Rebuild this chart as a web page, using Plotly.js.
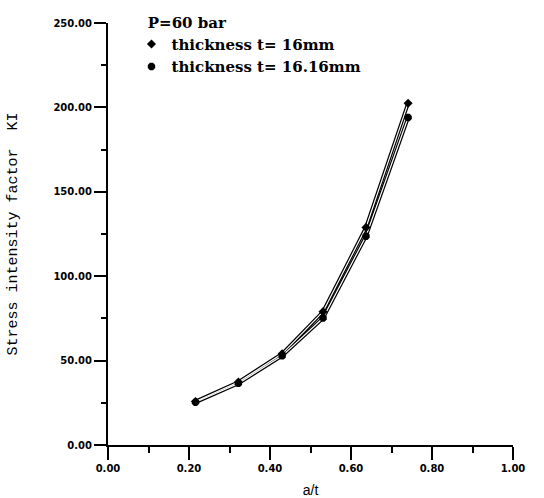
<!DOCTYPE html>
<html>
<head>
<meta charset="utf-8">
<script src="https://cdn.plot.ly/plotly-3.0.1.min.js"></script>
<style>html,body{margin:0;padding:0;background:#fff;}#chart{width:544px;height:498px;}</style>
</head>
<body>
<div id="chart"></div>
<script>
// Data (a/t positions as they appear on the axis)
const aT = [0.216, 0.322, 0.430, 0.531, 0.637, 0.741];
const kI_16 = [25.8, 37.3, 54.0, 79.0, 128.9, 202.5];
const kI_1616 = [25.3, 36.5, 52.8, 75.2, 123.7, 194.0];
const seriesNames = ["thickness t= 16mm", "thickness t= 16.16mm"];
const yTickVals = [0, 50, 100, 150, 200, 250];
const xTickVals = [0, 0.2, 0.4, 0.6, 0.8, 1.0];

const series = [kI_16, kI_1616];
const symbols = ["diamond", "octagon"];
const sizes = [7, 8];
const traces = [];
series.forEach(function (ys) {
  traces.push({x: aT, y: ys, mode: "lines", line: {color: "#000", width: 3.6}, showlegend: false, hoverinfo: "skip"});
});
series.forEach(function (ys) {
  traces.push({x: aT, y: ys, mode: "lines", line: {color: "#fff", width: 1.2}, showlegend: false, hoverinfo: "skip"});
});
series.forEach(function (ys, i) {
  traces.push({x: aT, y: ys, mode: "markers",
    name: "<b>" + seriesNames[i] + "</b>",
    marker: {symbol: symbols[i], size: sizes[i], color: "#000"}});
});

const tickFont = {family: "DejaVu Sans", size: 10, color: "#000", weight: "bold"};
const layout = {
  width: 544, height: 498,
  margin: {l: 108, r: 31, t: 23, b: 53, autoexpand: false},
  paper_bgcolor: "#fff", plot_bgcolor: "#fff",
  showlegend: true,
  legend: {
    x: 0.058, y: 1.035, xanchor: "left", yanchor: "top",
    font: {family: "DejaVu Serif", size: 15, color: "#000"},
    title: {text: "&nbsp;&nbsp;&nbsp;<b>P=60 bar</b>", font: {family: "DejaVu Serif", size: 15, color: "#000"}},
    itemwidth: 30, bgcolor: "rgba(0,0,0,0)", tracegroupgap: 0
  },
  xaxis: {
    range: [0, 1], tickvals: xTickVals, tickformat: ".2f",
    showline: true, linecolor: "#000", linewidth: 2, zeroline: false, showgrid: false,
    ticks: "outside", ticklen: 13, tickwidth: 2, tickcolor: "#000",
    minor: {dtick: 0.1, ticks: "outside", ticklen: 6, tickwidth: 2, tickcolor: "#000", showgrid: false},
    tickfont: tickFont,
    title: {text: "a/t", font: {family: "Liberation Sans", size: 14, color: "#000"}, standoff: 26}
  },
  yaxis: {
    range: [0, 250], tickvals: yTickVals, tickformat: ".2f",
    showline: true, linecolor: "#000", linewidth: 2, zeroline: false, showgrid: false,
    ticks: "outside", ticklen: 12, tickwidth: 2, tickcolor: "#000",
    minor: {dtick: 25, ticks: "outside", ticklen: 5, tickwidth: 2, tickcolor: "#000", showgrid: false},
    tickfont: tickFont,
    title: {text: "Stress intensity factor  KI", font: {family: "Liberation Mono", size: 15, color: "#000"}, standoff: 32}
  }
};
Plotly.newPlot("chart", traces, layout, {displayModeBar: false, staticPlot: true});
</script>
</body>
</html>
